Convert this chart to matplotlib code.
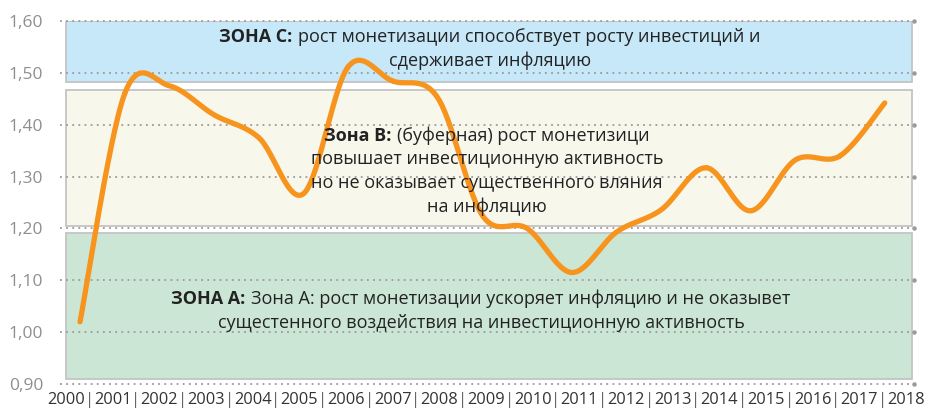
import numpy as np
import matplotlib.pyplot as plt
from matplotlib.patches import Rectangle
from matplotlib.offsetbox import TextArea, HPacker, VPacker, AnnotationBbox

plt.rcParams['font.family'] = ['Open Sans', 'DejaVu Sans']

years = [str(y) for y in range(2000, 2019)]
values = [1.02, 1.46, 1.475, 1.419, 1.375, 1.267, 1.512, 1.484, 1.452, 1.225,
          1.20, 1.115, 1.193, 1.236, 1.317, 1.234, 1.332, 1.34, 1.442]
yticks = [0.90, 1.00, 1.10, 1.20, 1.30, 1.40, 1.50, 1.60]

# zones: (bottom, top, colour, bold head, lines)
zones = [
    (0.910, 1.192, '#cce6d5', 'ЗОНА А:',
     ['Зона А: рост монетизации ускоряет инфляцию и не оказывет',
      'сущестенного воздействия на инвестиционную активность']),
    (1.205, 1.467, '#f8f7ec', 'Зона В:',
     ['(буферная) рост монетизици',
      'повышает инвестиционную активность',
      'но не оказывает существенного вляния',
      'на инфляцию']),
    (1.482, 1.600, '#c6e8f8', 'ЗОНА С:',
     ['рост монетизации способствует росту инвестиций и',
      'сдерживает инфляцию']),
]
label_pos = [(8.97, 1.041), (9.1, 1.311), (9.17, 1.546)]


def catmull_rom(xs, ys, n=30):
    # smooth the line the way spreadsheet "smoothed lines" do
    xs = np.asarray(xs, float)
    ys = np.asarray(ys, float)
    px = np.concatenate([[xs[0]], xs, [xs[-1]]])
    py = np.concatenate([[ys[0]], ys, [ys[-1]]])
    ox, oy = [], []
    t = np.linspace(0, 1, n)
    for i in range(1, len(px) - 2):
        for arr, out in ((px, ox), (py, oy)):
            p0, p1, p2, p3 = arr[i - 1], arr[i], arr[i + 1], arr[i + 2]
            out.extend(0.5 * (2 * p1 + (-p0 + p2) * t
                              + (2 * p0 - 5 * p1 + 4 * p2 - p3) * t ** 2
                              + (-p0 + 3 * p1 - 3 * p2 + p3) * t ** 3))
    return np.array(ox), np.array(oy)


fig = plt.figure(figsize=(9.25, 4.12), dpi=100)
ax = fig.add_axes([0.0649, 0.068, 0.924, 0.881])
x = np.arange(len(years))
xmin, xmax = -0.447, 18.67
ax.set_xlim(xmin, xmax)
ax.set_ylim(0.90, 1.60)

zx0, zx1 = -0.313, 18.6
for lo, hi, col, head, lines in zones:
    ax.add_patch(Rectangle((zx0, lo), zx1 - zx0, hi - lo, facecolor=col,
                           edgecolor='#c4c4c4', lw=1.3, zorder=1))

for v in yticks:
    ax.plot([xmin, xmax - 0.08], [v, v], ls=(0, (1, 2.4)), lw=1.3,
            color='#9a9a9a', zorder=2, clip_on=False)
    ax.plot([xmax - 0.02], [v], 'o', ms=2.2, color='#9a9a9a', zorder=2,
            clip_on=False)

sx, sy = catmull_rom(x, values)
ax.plot(sx, sy, color='#f7941d', lw=3.8, solid_capstyle='round',
        solid_joinstyle='round', zorder=3)

tp = dict(color='#222222', fontsize=13)
for (lo, hi, col, head, lines), (cx, cy) in zip(zones, label_pos):
    first = HPacker(children=[TextArea(head, textprops=dict(tp, fontweight='bold')),
                              TextArea(lines[0], textprops=tp)],
                    align='baseline', pad=0, sep=4)
    rows = [first] + [TextArea(l, textprops=tp) for l in lines[1:]]
    box = VPacker(children=rows, align='center', pad=0, sep=4)
    ab = AnnotationBbox(box, (cx, cy), xycoords='data', frameon=False,
                        box_alignment=(0.5, 0.5), zorder=5)
    ax.add_artist(ab)

for s in ax.spines.values():
    s.set_visible(False)
ax.set_xticks([])
ax.set_yticks(yticks)
ax.set_yticklabels([f'{v:.2f}'.replace('.', ',') for v in yticks],
                   color='#8f8f8f', fontsize=12.5)
ax.tick_params(axis='y', length=0, pad=12)

# year labels with separators under the plot
trans = ax.get_xaxis_transform()
step = 46.67 / 44.72
for i, yr in enumerate(years):
    cx = -0.313 + step * i
    ax.text(cx, -0.045, yr, transform=trans, ha='center', va='center',
            fontsize=11.8, color='#333333')
    if i < len(years) - 1:
        ax.text(cx + step / 2, -0.045, '|', transform=trans, ha='center',
                va='center', fontsize=12, color='#666666')

fig.savefig('out.png', dpi=100, facecolor='white')
